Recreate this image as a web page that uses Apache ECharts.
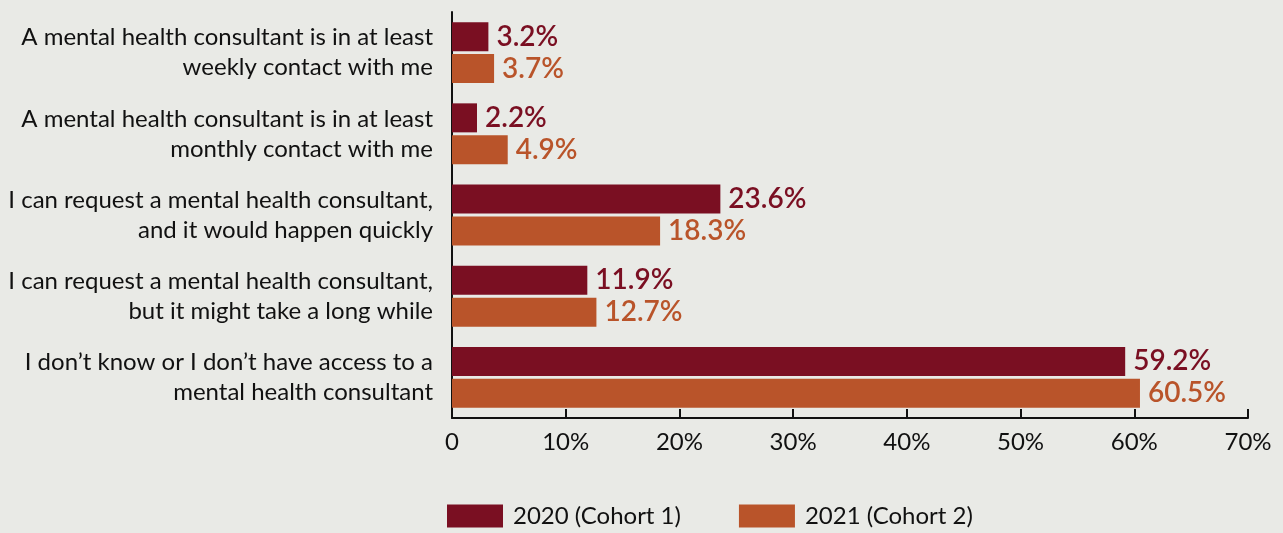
<!DOCTYPE html>
<html>
<head>
<meta charset="utf-8">
<script src="https://cdn.jsdelivr.net/npm/echarts@6/dist/echarts.min.js"></script>
<style>
html,body{margin:0;padding:0;background:#E9EAE6;}
#c{width:1283px;height:533px;}
</style>
</head>
<body>
<div id="c"></div>
<script>
const categories = [
  "A mental health consultant is in at least\nweekly contact with me",
  "A mental health consultant is in at least\nmonthly contact with me",
  "I can request a mental health consultant,\nand it would happen quickly",
  "I can request a mental health consultant,\nbut it might take a long while",
  "I don\u2019t know or I don\u2019t have access to a\nmental health consultant"
];
const values2020 = [3.2, 2.2, 23.6, 11.9, 59.2];
const values2021 = [3.7, 4.9, 18.3, 12.7, 60.5];
const seriesNames = ["2020 (Cohort 1)", "2021 (Cohort 2)"];
const xTicks = [0, 10, 20, 30, 40, 50, 60, 70];

const C1 = "#7A0F22", C2 = "#B9542A";
const FONT = "Lato";

const chart = echarts.init(document.getElementById('c'), null, {renderer:'canvas'});
function mkSeries(name, data, color){
  return {
    name, type:'bar', data,
    barGap:'10%', barCategoryGap:'25%',
    itemStyle:{color},
    label:{show:true, position:'right', distance:8, color, fontFamily:FONT, fontSize:28, fontWeight:600,
      formatter:p=>p.value.toFixed(1)+'%'}
  };
}
chart.setOption({
  backgroundColor:'#E9EAE6',
  animation:false,
  textStyle:{fontFamily:FONT},
  grid:{left:452, right:35, top:12, bottom:115, containLabel:false},
  legend:{
    top:502, left:447, itemWidth:56, itemHeight:23, itemGap:58,
    padding:[2,0,0,0],
    icon:'rect',
    textStyle:{fontFamily:FONT, fontSize:24, color:'#111', padding:[0,0,0,5]},
    data:seriesNames
  },
  xAxis:{
    type:'value', min:xTicks[0], max:xTicks[xTicks.length-1], interval:10,
    axisLine:{show:true, lineStyle:{color:'#111', width:2}},
    axisTick:{show:true, inside:true, length:9, lineStyle:{color:'#111', width:2}},
    splitLine:{show:false},
    axisLabel:{fontFamily:FONT, fontSize:24, color:'#111', margin:12,
      formatter:v=>v===0?'0':v+'%'}
  },
  yAxis:{
    type:'category', data:categories, inverse:true,
    axisLine:{show:true, lineStyle:{color:'#111', width:2}},
    axisTick:{show:false},
    axisLabel:{fontFamily:FONT, fontSize:24, color:'#111', margin:19, align:'right', lineHeight:30}
  },
  series:[mkSeries(seriesNames[0], values2020, C1), mkSeries(seriesNames[1], values2021, C2)]
});
</script>
</body>
</html>
